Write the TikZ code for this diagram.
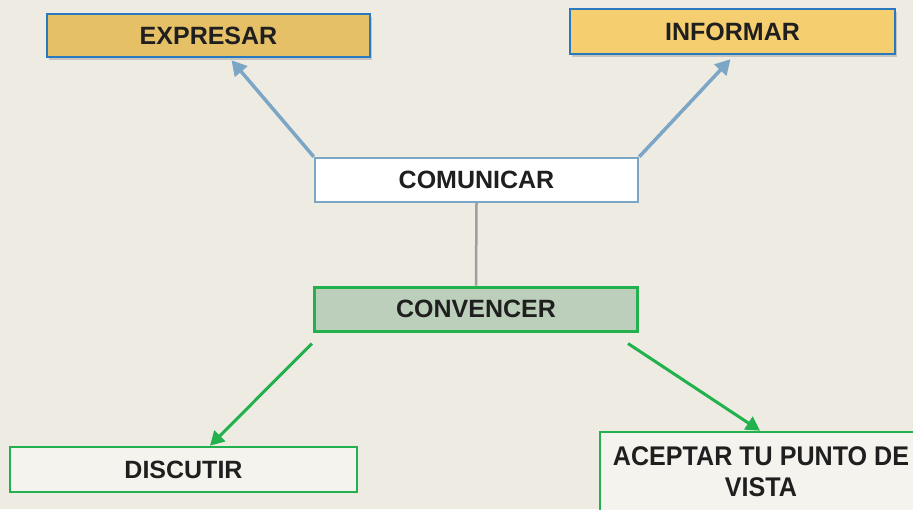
\documentclass[tikz,border=0pt]{standalone}
\usepackage{fontspec}
\setmainfont{Liberation Sans}
\usetikzlibrary{arrows.meta,shadows}
\definecolor{bg}{HTML}{EEEBE3}
\definecolor{boxblue}{HTML}{2A78BE}
\definecolor{paleblue}{HTML}{7CA6C6}
\definecolor{gold}{HTML}{E5C067}
\definecolor{lightgold}{HTML}{F5CF6F}
\definecolor{sage}{HTML}{BCCFBB}
\definecolor{leaf}{HTML}{22B14C}
\definecolor{paper}{HTML}{F5F3EE}
\tikzset{
  label/.style={font=\fontsize{25}{28}\selectfont\bfseries, text=black!88},
  topbox/.style={label, draw=boxblue, line width=2.4pt, minimum width=323pt, minimum height=43pt,
    inner sep=0pt, drop shadow={shadow xshift=1.5pt, shadow yshift=-2.5pt, opacity=0.35}},
  midbox/.style={label, line width=2.4pt, minimum width=323pt, minimum height=44pt, inner sep=0pt},
  greenbox/.style={label, draw=leaf, line width=2.6pt, fill=paper, inner sep=0pt},
  bluearrow/.style={draw=paleblue, line width=3.5pt, -{Triangle[length=15pt,width=16pt]}},
  greenarrow/.style={draw=leaf, line width=3pt, -{Triangle[length=14pt,width=15pt]}},
}
\begin{document}
\begin{tikzpicture}[x=1pt, y=-1pt]
  \fill[bg] (0,0) rectangle (913,509);
  \clip (0,0) rectangle (913,509);
  \useasboundingbox (0,0) rectangle (913,509);

  % upper row
  \node[topbox, fill=gold] (expresar) at (208.5,35.5) {EXPRESAR};
  \node[topbox, fill=lightgold, minimum width=325pt, minimum height=45pt] (informar) at (732.5,31.5) {INFORMAR};

  % centre column
  \node[midbox, draw=paleblue, fill=white] (comunicar) at (476.5,180) {COMUNICAR};
  \node[midbox, draw=leaf, fill=sage, line width=3pt] (convencer) at (476,309) {CONVENCER};

  % lower row
  \node[greenbox, minimum width=347pt, minimum height=45pt] (discutir) at (183.5,469.5) {DISCUTIR};
  \node[greenbox, minimum width=320pt, minimum height=100pt] (aceptar) at (760,482) {};
  \node[label, align=center, inner sep=0pt] (aceptartxt) at (761,472)
    {\scalebox{0.93}[1]{\fontsize{27}{35}\selectfont ACEPTAR TU PUNTO DE}\\[3pt]
     \scalebox{0.93}[1]{\fontsize{27}{35}\selectfont VISTA}};

  % connectors
  \draw[bluearrow] (comunicar.north west) -- ([xshift=23pt,yshift=-2pt]expresar.south);
  \draw[bluearrow] (comunicar.north east) -- ([xshift=-2pt,yshift=-4pt]informar.south);
  \draw[gray!75, line width=2.5pt] (comunicar.south) -- (convencer.north);
  \draw[greenarrow] ([xshift=-1pt,yshift=-11pt]convencer.south west) -- ([xshift=26.5pt]discutir.north);
  \draw[greenarrow] ([xshift=-11pt,yshift=-11pt]convencer.south east) -- (aceptar.north);
\end{tikzpicture}
\end{document}
